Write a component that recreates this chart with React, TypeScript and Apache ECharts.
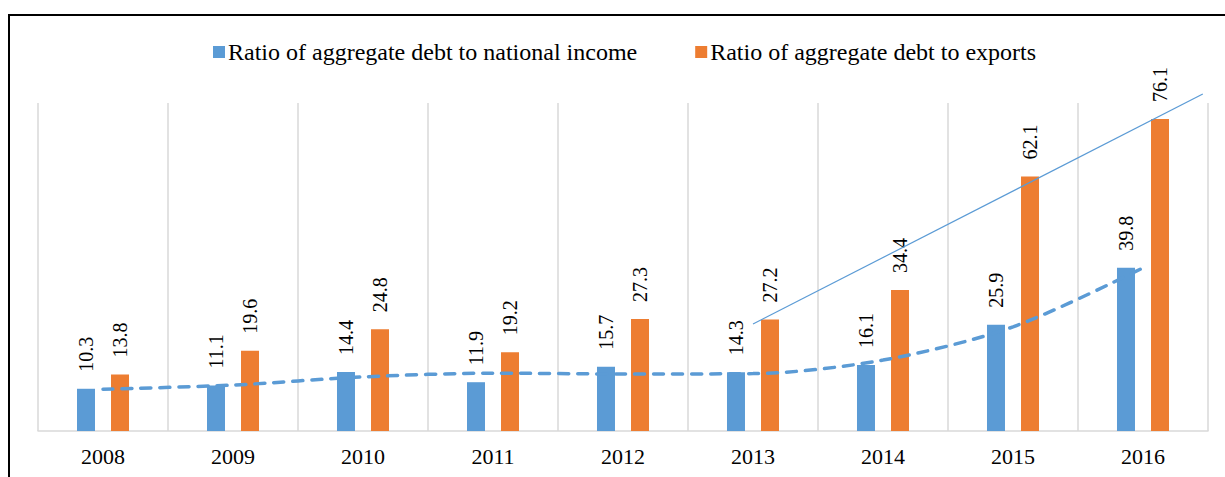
import React, { useEffect, useRef } from "react";
import * as echarts from "echarts";

const years = ["2008", "2009", "2010", "2011", "2012", "2013", "2014", "2015", "2016"];
const incomeRatio = [10.3, 11.1, 14.4, 11.9, 15.7, 14.3, 16.1, 25.9, 39.8];
const exportsRatio = [13.8, 19.6, 24.8, 19.2, 27.3, 27.2, 34.4, 62.1, 76.1];
// polynomial trend of the income ratio, read at each category centre
const incomeTrend = [10.2, 11.2, 13.2, 14.1, 13.9, 14.0, 17.3, 25.4, 39.8];
// linear trend of the exports ratio (category index, value)
const exportsTrendX = [5, 8.46];
const exportsTrendY = [26.1, 82.2];

const FONT = "Liberation Serif";
const BLUE = "#5b9bd5";
const ORANGE = "#ed7d31";

export default function App() {
  const ref = useRef<HTMLDivElement>(null);
  useEffect(() => {
    const chart = echarts.init(ref.current!, null, { renderer: "svg" });
    const makeLabel = () => ({
      show: true,
      position: "top",
      rotate: 90,
      align: "left",
      verticalAlign: "middle",
      distance: 17,
      formatter: "{v|{c}}",
      rich: { v: { fontFamily: FONT, fontSize: 20, color: "#000" } },
      fontFamily: FONT,
      fontSize: 20,
      color: "#000",
    });
    chart.setOption({
      animation: false,
      textStyle: { fontFamily: FONT },
      graphic: [
        {
          type: "rect",
          shape: { x: 9, y: 15, width: 1400, height: 700 },
          style: { fill: "none", stroke: "#000", lineWidth: 2 },
          z: 0,
          silent: true,
        },
      ],
      legend: {
        data: ["Ratio of aggregate debt to national income", "Ratio of aggregate debt to exports"],
        left: 213,
        top: 40,
        padding: 0,
        icon: "rect",
        itemWidth: 12,
        itemHeight: 12,
        itemGap: 58,
        textStyle: { fontFamily: FONT, fontSize: 24, color: "#000", padding: [0, 0, 0, -2] },
      },
      grid: { left: 38, right: 17, top: 103, bottom: 46 },
      xAxis: [
        {
          type: "category",
          data: years,
          axisLine: { lineStyle: { color: "#d9d9d9", width: 1.5 } },
          axisTick: { show: false },
          splitLine: { show: true, lineStyle: { color: "#d9d9d9", width: 1.5 } },
          axisLabel: { fontFamily: FONT, fontSize: 22, color: "#000", margin: 14 },
        },
        { type: "value", min: -0.5, max: 8.5, show: false },
      ],
      yAxis: { type: "value", min: 0, max: 80, show: false },
      series: [
        {
          name: "Ratio of aggregate debt to national income",
          type: "bar",
          data: incomeRatio,
          barWidth: 18,
          barGap: "89%",
          itemStyle: { color: BLUE },
          label: makeLabel(),
        },
        {
          name: "Ratio of aggregate debt to exports",
          type: "bar",
          data: exportsRatio,
          barWidth: 18,
          barGap: "89%",
          itemStyle: { color: ORANGE },
          label: makeLabel(),
        },
        {
          name: "Poly trend",
          type: "line",
          data: incomeTrend,
          smooth: 0.3,
          symbol: "none",
          lineStyle: { color: BLUE, width: 3.5, type: [10, 9], cap: "round" },
          z: 5,
        },
        {
          name: "Linear trend",
          type: "line",
          xAxisIndex: 1,
          data: exportsTrendX.map((x, i) => [x, exportsTrendY[i]]),
          symbol: "none",
          clip: false,
          lineStyle: { color: BLUE, width: 1.2 },
          z: 5,
        },
      ],
    });
    return () => chart.dispose();
  }, []);
  return (
    <div
      ref={ref}
      style={{ position: "absolute", left: 0, top: 0, width: 1225, height: 477, background: "#fff" }}
    />
  );
}
